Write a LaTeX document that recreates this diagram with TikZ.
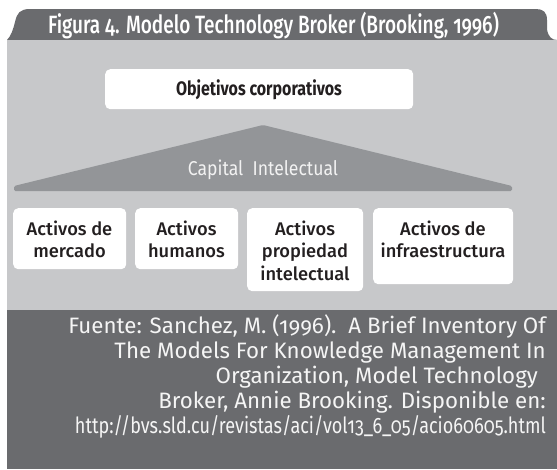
\documentclass[tikz,border=0pt]{standalone}
\usepackage{fontspec}
\setmainfont{Fira Sans}[Numbers=OldStyle]
\newfontfamily\condfont{Fira Sans Medium}[Numbers=OldStyle,FakeStretch=0.76]
\newfontfamily\urlfont{Fira Sans}[Numbers=OldStyle,FakeStretch=0.81]
\newfontfamily\medfont{Fira Sans Medium}[Numbers=OldStyle]
\newfontfamily\narrowbold{Fira Sans}[Numbers=OldStyle,FakeStretch=0.82]
\newfontfamily\capfont{Fira Sans}[Numbers=OldStyle,FakeStretch=0.88]
\definecolor{panel}{RGB}{199,200,202}
\definecolor{darkgray}{RGB}{106,107,110}
\definecolor{roofgray}{RGB}{147,149,152}
\definecolor{ink}{RGB}{35,31,32}
\tikzset{
  wbox/.style={fill=white, rounded corners=5pt, draw=none, inner sep=0pt, anchor=north west},
  boxtxt/.style={font=\medfont\fontsize{18.3}{22.5}\selectfont, text=ink, align=center, inner sep=0pt},
  foot/.style={font=\fontsize{22.3}{25}\selectfont, text=white!96!black, anchor=base east, inner sep=0pt},
}
\begin{document}
\begin{tikzpicture}[x=1pt,y=-1pt]
\useasboundingbox (0,0) rectangle (557,469);
\fill[white] (0,0) rectangle (557,469);
% title tab
\fill[darkgray] (7,40) .. controls (11,36) and (13,30) .. (15,22)
  .. controls (17,13) and (20,9) .. (30,9) -- (536,9)
  .. controls (543,9) and (547,12) .. (547,20) -- (547,29)
  .. controls (548,37) and (552,40) .. (557,40) -- cycle;
\node[font=\condfont\fontsize{25}{28}\selectfont, text=white, anchor=base, inner sep=0pt] (title) at (273.5,33) {Figura 4. Modelo Technology Broker (Brooking, 1996)};
% panel
\fill[panel] (7,40) rectangle (557,310);
% objetivos
\node[wbox, minimum width=308pt, minimum height=40pt] (obj) at (105,69) {};
\node[font=\narrowbold\bfseries\fontsize{19.5}{22}\selectfont, text=ink, inner sep=0pt] (objt) at (259,89.5) {Objetivos corporativos};
% roof
\fill[roofgray, rounded corners=1.5pt] (14,186) -- (263,125) -- (512,186) -- (512,191) -- (14,191) -- cycle;
\node[font=\capfont\fontsize{20}{23}\selectfont, text=white!95!black, anchor=base, inner sep=0pt] (cap) at (263,175) {Capital\ \ Intelectual};
% asset boxes
\node[wbox, minimum width=113pt, minimum height=61pt] (b1) at (13,208) {};
\node[wbox, minimum width=103pt, minimum height=61pt] (b2) at (135,208) {};
\node[wbox, minimum width=116pt, minimum height=83pt] (b3) at (247,208) {};
\node[wbox, minimum width=140pt, minimum height=76pt] (b4) at (373,208) {};
\node[boxtxt] (t1) at (69.5,239.5) {Activos de\\mercado};
\node[boxtxt] (t2) at (186.5,239.5) {Activos\\humanos};
\node[boxtxt] (t3) at (305,250.5) {Activos\\propiedad\\intelectual};
\node[boxtxt] (t4) at (443,239.5) {Activos de\\infraestructura};
% footer
\fill[darkgray] (7,310) rectangle (557,469);
\node[foot] (f1) at (546,333) {Fuente: Sanchez, M. (1996).\ \ A Brief Inventory Of};
\node[foot] (f2) at (546,358) {The Models For Knowledge Management In};
\node[foot] (f3) at (538,383) {Organization, Model Technology};
\node[foot] (f4) at (546,408) {Broker, Annie Brooking. Disponible en:};
\node[foot, font=\urlfont\fontsize{22.3}{25}\selectfont] (f5) at (546,433) {http://bvs.sld.cu/revistas/aci/vol13\_6\_05/acio60605.html};
\end{tikzpicture}
\end{document}
